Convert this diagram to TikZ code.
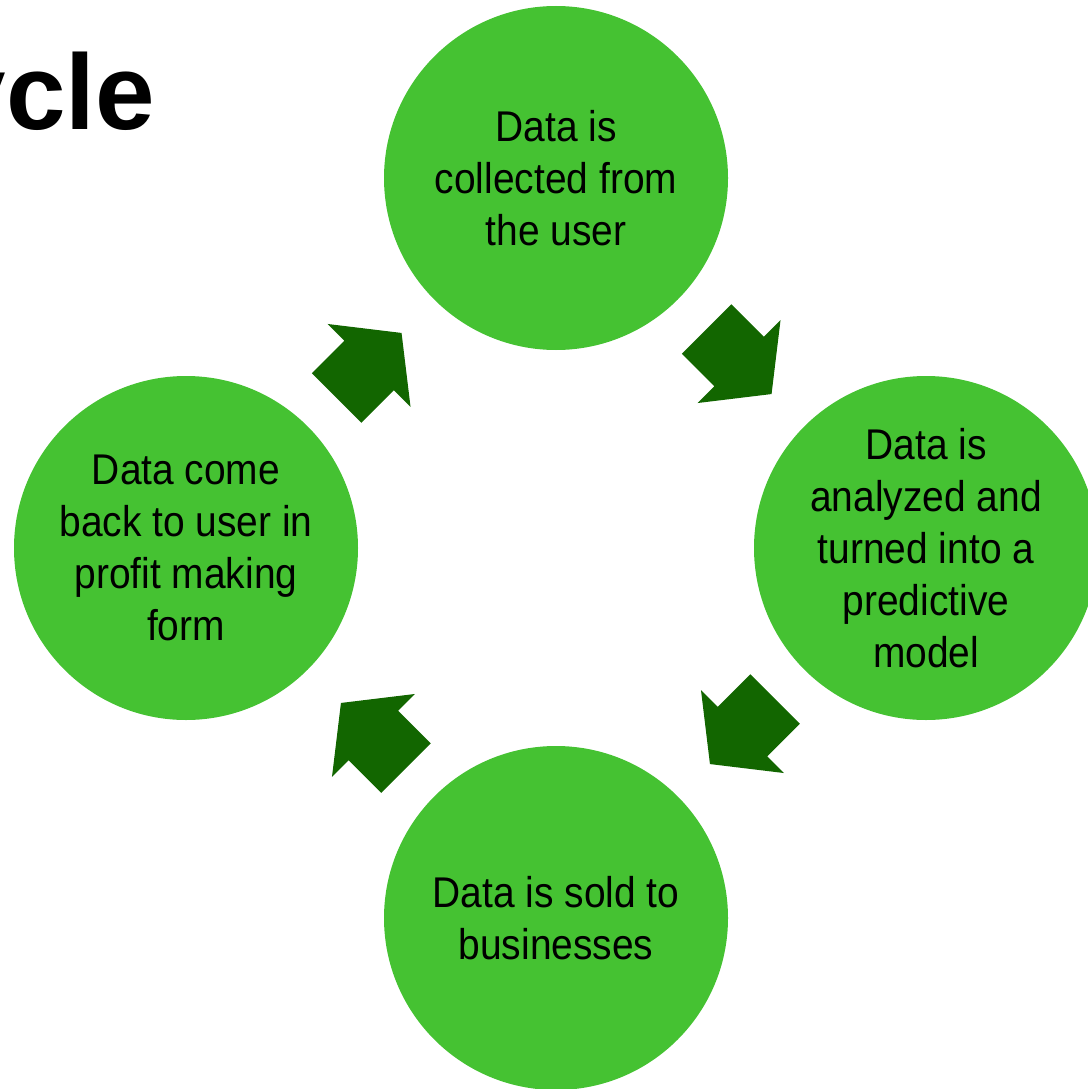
\documentclass[tikz,border=0pt]{standalone}
\usepackage{fontspec}
\setmainfont{Liberation Sans}
\newfontfamily\narrowfont{Liberation Sans}[FakeStretch=0.905]
\newfontfamily\titlefont{Liberation Sans}
\definecolor{circgreen}{HTML}{45C232}
\definecolor{arrgreen}{HTML}{126600}
\tikzset{
  stage/.style={circle, fill=circgreen, minimum size=344pt, inner sep=0pt,
    align=center, font=\narrowfont\fontsize{43}{52}\selectfont, text=black},
  blockarrow/.style={fill=arrgreen, draw=none}
}
\newcommand{\cyclearrow}[2]{%
  \begin{scope}[shift={#1}, rotate=#2]
    \fill[blockarrow] (0,35) -- (46,35) -- (46,58.7) -- (92,0) -- (46,-58.7) -- (46,-35) -- (0,-35) -- cycle;
  \end{scope}}
\begin{document}
\begin{tikzpicture}[x=1pt, y=-1pt]
\useasboundingbox (0,0) rectangle (1087,1089);
\node[anchor=base east, inner sep=0pt, font=\titlefont\bfseries\fontsize{107}{120}\selectfont] (title) at (155,129) {ycle};
\node[stage] (collect) at (556,178) {Data is\\collected from\\the user};
\node[stage] (analyze) at (926,548) {Data is\\analyzed and\\turned into a\\predictive\\model};
\node[stage] (sold) at (556,918) {Data is sold to\\businesses};
\node[stage] (back) at (186,548) {Data come\\back to user in\\profit making\\form};
\cyclearrow{(706.5,329)}{-45}
\cyclearrow{(775,699)}{-135}
\cyclearrow{(406,768)}{135}
\cyclearrow{(336.5,398)}{45}
\end{tikzpicture}
\end{document}
